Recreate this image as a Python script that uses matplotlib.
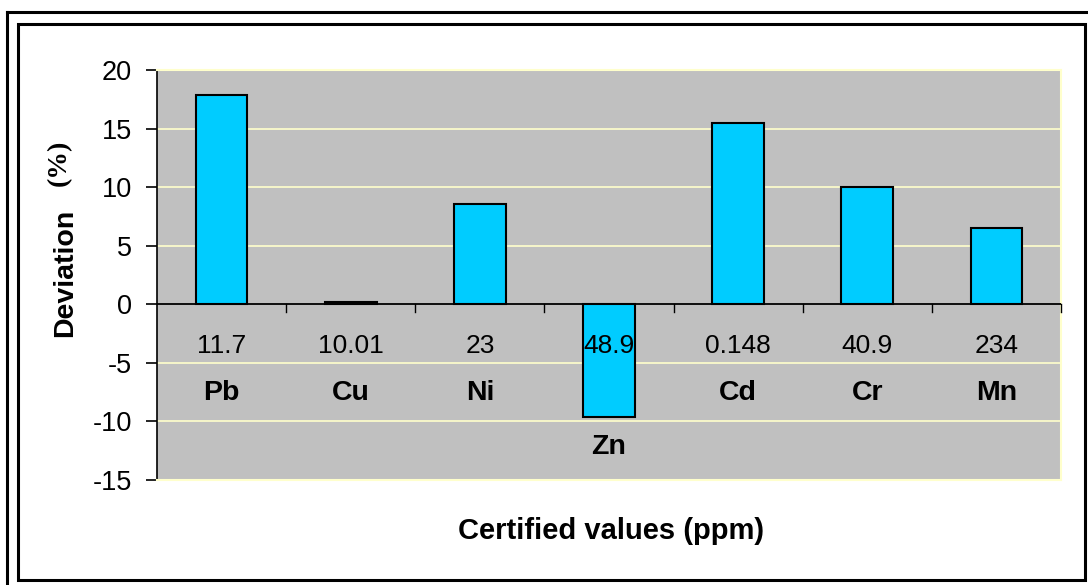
import matplotlib
matplotlib.use("Agg")
import matplotlib.pyplot as plt
import matplotlib.transforms as mtransforms
from matplotlib.patches import Rectangle
from matplotlib.lines import Line2D

elements = ["Pb", "Cu", "Ni", "Zn", "Cd", "Cr", "Mn"]
certified = ["11.7", "10.01", "23", "48.9", "0.148", "40.9", "234"]
deviation = [17.9, 0.2, 8.6, -9.6, 15.5, 10.0, 6.5]
yticks = [-15, -10, -5, 0, 5, 10, 15, 20]

plt.rcParams['font.family'] = ['Liberation Sans', 'DejaVu Sans']

W, H = 1088, 585
fig = plt.figure(figsize=(W / 100, H / 100), dpi=100)
fig.patch.set_facecolor("white")

# frames
fig.add_artist(Line2D([6.5 / W, 6.5 / W], [0, 1 - 12 / H], transform=fig.transFigure, color="black", lw=2.2))
fig.add_artist(Line2D([6.5 / W, 1.0], [1 - 12 / H, 1 - 12 / H], transform=fig.transFigure, color="black", lw=2.2))
fig.add_artist(Rectangle((18 / W, 1 - 580 / H), (1085 - 18) / W, (580 - 24) / H,
                         transform=fig.transFigure, fill=False, edgecolor="black", lw=2.2))

left, right, top, bottom = 157, 1061, 70, 480
ax = fig.add_axes([left / W, 1 - bottom / H, (right - left) / W, (bottom - top) / H])
ax.set_facecolor("#C0C0C0")

x = list(range(len(elements)))
ax.bar(x, deviation, width=0.4, color="#00CCFF", edgecolor="black", linewidth=1.5, zorder=3)

ax.set_xlim(-0.5, len(elements) - 0.5)
ax.set_ylim(-15, 20)
ax.set_yticks(yticks)
ax.set_yticklabels([str(v) for v in yticks], fontsize=19.5)
for v in yticks:
    if v != 0:
        ax.axhline(v, color="#FFFFCC", lw=1.2, zorder=1)
ax.axhline(0, color="black", lw=1.3, zorder=4)

ax.tick_params(axis="y", direction="out", length=8, width=1.2, pad=10)
ax.set_xticks([])
for s in ["top", "right", "bottom"]:
    ax.spines[s].set_color("#FFFFCC")
    ax.spines[s].set_linewidth(1.5)
ax.spines["left"].set_color("black")
ax.spines["left"].set_linewidth(1.2)

# category boundary ticks on the zero line
trans_px = mtransforms.blended_transform_factory(ax.transData, ax.transAxes)
tick_len = 8 / (bottom - top)
zero_frac = (0 - (-15)) / 35
for b in range(1, len(elements) + 1):
    ax.add_line(Line2D([b - 0.5, b - 0.5], [zero_frac, zero_frac - tick_len], transform=trans_px,
                       color="black", lw=1.0, zorder=5, clip_on=False))

def yfrac(ypix):
    return (bottom - ypix) / (bottom - top)

for i, (el, cv, d) in enumerate(zip(elements, certified, deviation)):
    ax.text(i, yfrac(346), cv, transform=trans_px, ha="center", va="center", fontsize=19, zorder=6)
    ey = 447 if d < 0 else 393
    ax.text(i, yfrac(ey), el, transform=trans_px, ha="center", va="center", fontsize=20.5,
            fontweight="bold", zorder=6)

fig.text(65 / W, 1 - 273 / H, "Deviation", rotation=90, ha="center", va="center",
         fontsize=20.5, fontweight="bold")
fig.text(59 / W, 1 - 163 / H, "(%)", rotation=90, ha="center", va="center",
         fontsize=20, fontweight="bold", family=["Liberation Serif", "DejaVu Serif"])
fig.text(611 / W, 1 - 531 / H, "Certified values (ppm)", ha="center", va="center",
         fontsize=21, fontweight="bold")

fig.savefig("out.png", dpi=100)
